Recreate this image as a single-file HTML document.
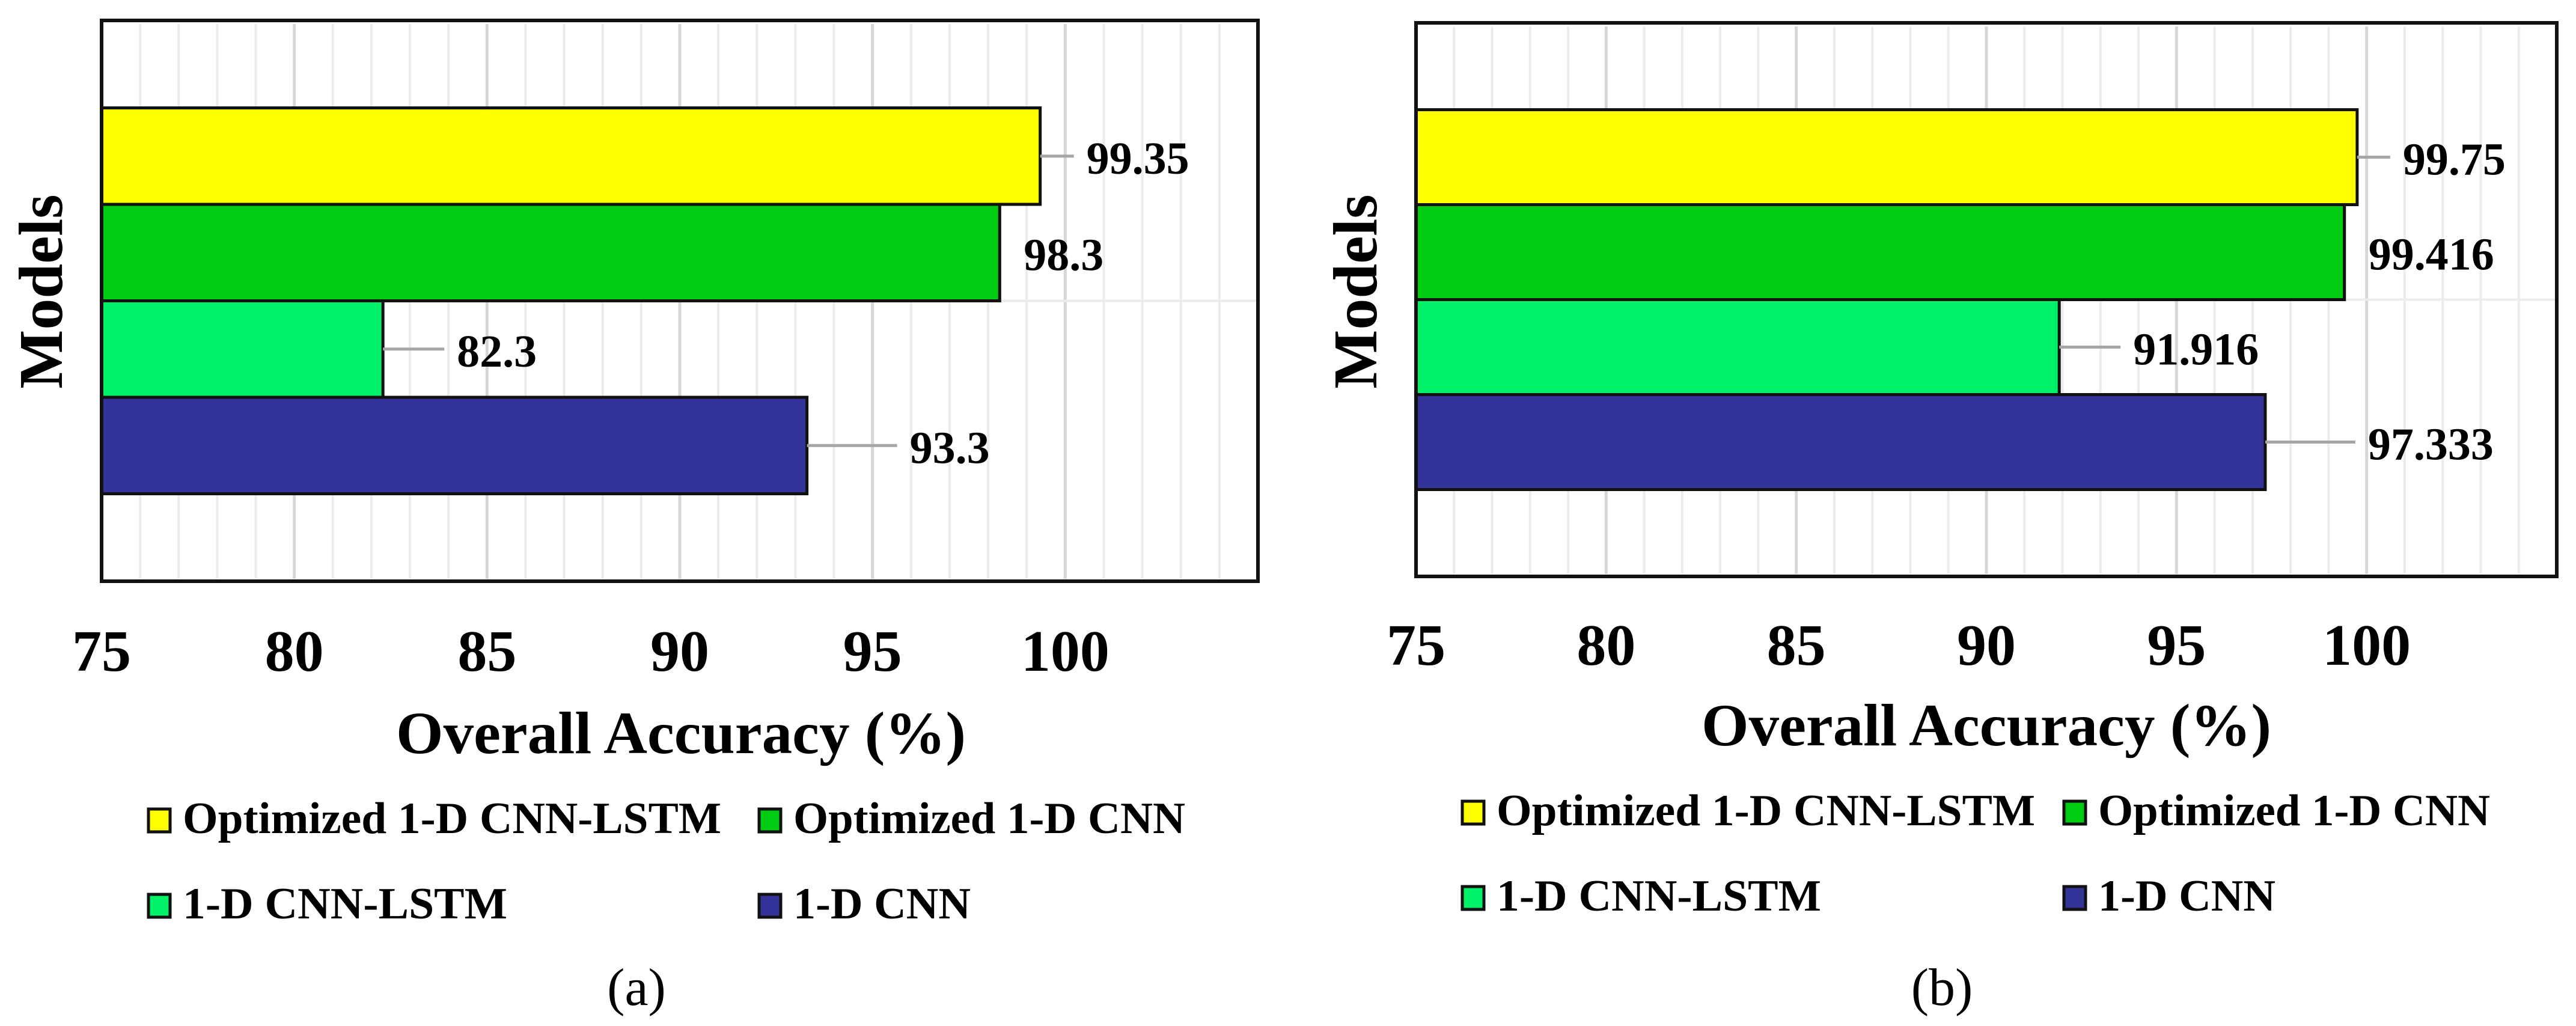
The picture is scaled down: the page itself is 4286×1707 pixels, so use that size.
<!DOCTYPE html>
<html><head><meta charset="utf-8"><style>
html,body{margin:0;padding:0;background:#fff;}
svg{display:block;}
text{font-family:"Liberation Serif",serif;font-weight:bold;fill:#000;}
</style></head>
<body>
<svg id="fig" width="4286" height="1707" viewBox="0 0 4286 1707" xmlns="http://www.w3.org/2000/svg"></svg>
<script>
const categories = ["Optimized 1-D CNN-LSTM","Optimized 1-D CNN","1-D CNN-LSTM","1-D CNN"];
const valuesA = [99.35, 98.3, 82.3, 93.3];
const labelsA = ["99.35","98.3","82.3","93.3"];
const valuesB = [99.75, 99.416, 91.916, 97.333];
const labelsB = ["99.75","99.416","91.916","97.333"];
const ticks = [75, 80, 85, 90, 95, 100];
const colors = ["#ffff00","#00cc11","#00f068","#333399"];
const NS = "http://www.w3.org/2000/svg";
const svg = document.getElementById('fig');
function mk(tag, attrs, parent){
  const e = document.createElementNS(NS, tag);
  for (const k in attrs) e.setAttribute(k, attrs[k]);
  (parent||svg).appendChild(e);
  return e;
}
function panel(cfg){
  const g = mk('g', {});
  
  
  const xMin = 75, xMax = 105;
  const sx = v => cfg.left + (v - xMin) / (xMax - xMin) * (cfg.right - cfg.left);
  for (let v = xMin + 1; v < xMax; v++) {
    const major = (v % 5 === 0);
    const ln = mk('line', {x1: sx(v), x2: sx(v), y1: cfg.top + 6, y2: cfg.bottom - 4,
      stroke: major ? '#d6d6d6' : '#ececec', 'stroke-width': major ? 5 : 4}, g);
    
    
  }
  const mid = (cfg.top + cfg.bottom) / 2;
  const hl = mk('line', {x1: cfg.left, x2: cfg.right, y1: mid, y2: mid, stroke: '#ececec', 'stroke-width': 4}, g);
  
  
  const bh = cfg.barH;
  const y0 = mid - bh * 2;
  cfg.values.forEach((v, i) => {
    const y = y0 + i * bh;
    const r = mk('rect', {x: cfg.left, y: y, width: sx(v) - cfg.left, height: bh, fill: colors[i], stroke: '#111', 'stroke-width': 5}, g);
    
    
    const cy = y + bh / 2;
    const lead = cfg.leaders[i];
    let tx;
    if (lead > 0) {
      const l = mk('line', {x1: sx(v), x2: sx(v) + lead, y1: cy, y2: cy, stroke: '#a6a6a6', 'stroke-width': 5}, g);
      
      
      tx = sx(v) + lead + 21;
    } else {
      tx = sx(v) + 40;
    }
    const t = mk('text', {x: tx, y: cy + 29, 'font-size': 76}, g);
    t.textContent = cfg.labels[i];
    
    
  });
  const fr = mk('rect', {x: cfg.left, y: cfg.top, width: cfg.right - cfg.left, height: cfg.bottom - cfg.top, fill: 'none', stroke: '#111', 'stroke-width': 6}, g);
  
  
  ticks.forEach(v => {
    const t = mk('text', {x: sx(v), y: cfg.tickY, 'font-size': 98, 'text-anchor': 'middle'}, g);
    t.textContent = String(v);
    
    
  });
  const xt = mk('text', {x: cfg.titleX, y: cfg.titleY, 'font-size': 100, 'text-anchor': 'middle', textLength: 948, lengthAdjust: 'spacingAndGlyphs'}, g);
  xt.textContent = 'Overall Accuracy (%)';
  
  
  const yt = mk('text', {x: 0, y: 0, 'font-size': 104, 'text-anchor': 'middle', transform: 'translate(' + cfg.modelsX + ',485) rotate(-90)'}, g);
  yt.textContent = 'Models';
  
  
  const lw = [896, 652, 540, 295];
  categories.forEach((c, i) => {
    const col = i % 2, row = Math.floor(i / 2);
    const x = cfg.legX[col], by = cfg.legY[row];
    const sw = mk('rect', {x: x, y: by - 40, width: 36, height: 38, fill: colors[i], stroke: '#111', 'stroke-width': 5}, g);
    
    
    const t = mk('text', {x: x + 57, y: by, 'font-size': 74, textLength: lw[i], lengthAdjust: 'spacingAndGlyphs'}, g);
    t.textContent = c;
    
    
  });
  const cap = mk('text', {x: cfg.capX, y: 1672, 'font-size': 88, 'text-anchor': 'middle', style: 'font-weight:normal'}, g);
  cap.textContent = cfg.caption;
  
  
}
panel({name: 'panel-a', left: 169, right: 2093, top: 34, bottom: 967, barH: 160.5,
  values: valuesA, labels: labelsA, leaders: [56, 0, 102, 150],
  tickY: 1116, titleX: 1133, titleY: 1253, modelsX: 103,
  legX: [247, 1263], legY: [1386, 1528], capX: 1059, caption: '(a)'});
panel({name: 'panel-b', left: 2356, right: 4254, top: 38, bottom: 959, barH: 158,
  values: valuesB, labels: labelsB, leaders: [55, 0, 102, 150],
  tickY: 1106, titleX: 3305, titleY: 1240, modelsX: 2290,
  legX: [2433, 3434], legY: [1373, 1515], capX: 3231, caption: '(b)'});
</script>
</body></html>
